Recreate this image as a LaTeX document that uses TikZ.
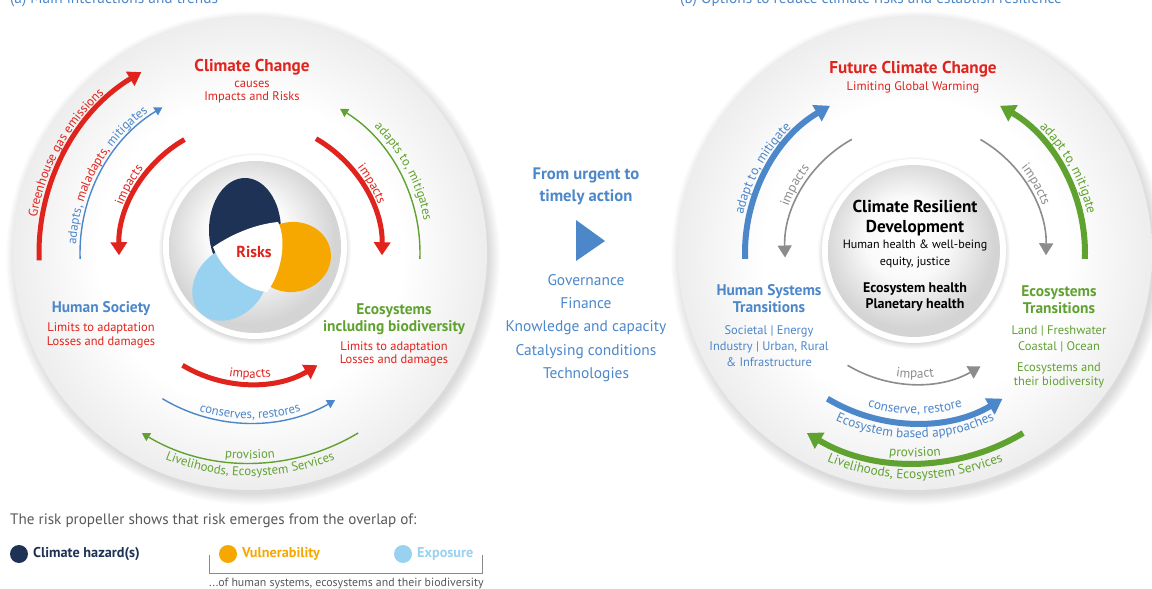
\documentclass[tikz,border=0pt]{standalone}
\usepackage{fontspec}
\setmainfont{PT Sans}
\usetikzlibrary{arrows.meta,decorations.text,calc,positioning}

\definecolor{ccred}{RGB}{224,35,28}
\definecolor{hsblue}{RGB}{76,135,202}
\definecolor{ecogreen}{RGB}{96,162,48}
\definecolor{hazard}{RGB}{29,50,85}
\definecolor{vuln}{RGB}{246,167,0}
\definecolor{expo}{RGB}{153,210,240}
\definecolor{impgray}{RGB}{140,140,140}
\definecolor{notegray}{RGB}{88,88,88}

\newcommand{\arcfont}{\fontsize{12.8}{14}\selectfont}
\newcommand{\arcfontb}{\fontsize{13.3}{15}\selectfont}
\pgfdeclareradialshading{diskshade}{\pgfpoint{0bp}{0bp}}{color(0bp)=(white); color(16bp)=(white); color(25bp)=(black!7); color(50bp)=(black!7)}
\pgfdeclareradialshading{hubshade}{\pgfpoint{-3bp}{5bp}}{color(0bp)=(white); color(12bp)=(black!2); color(25bp)=(black!17); color(50bp)=(black!17)}

\tikzset{
  ttl/.style={font=\bfseries\fontsize{15.5}{17}\selectfont},
  bigttl/.style={font=\bfseries\fontsize{17.2}{19}\selectfont},
  subttl/.style={font=\fontsize{12.5}{#1}\selectfont},
  subttl/.default=14,
  thickarc/.style={line width=5bp, -{Triangle[width=16bp,length=13bp]}},
  thinarc/.style={line width=1.4bp, -{Triangle[width=9bp,length=8bp]}},
  fatarc/.style={line width=6bp, -{Triangle[width=18bp,length=15bp]}},
  grayarc/.style={impgray, line width=1.6bp, -{Triangle[width=14bp,length=12bp]}},
  arctxt/.style={decorate, decoration={text along path, text align=center, text={#1}}}
}

\begin{document}
\begin{tikzpicture}[x=1bp, y=-1bp, every node/.style={inner sep=0pt, align=center}]
\useasboundingbox (0,0) rectangle (1152,589);
\coordinate (cL) at (250,253);
\coordinate (cR) at (915,253);
\coordinate (hL) at (255,247);
\coordinate (hR) at (914,251);

% disks and hubs
\foreach \c in {cL,cR}{
  \foreach \s in {1,...,12}
    \fill[black, opacity=0.011] ($(\c)+(3,5)$) circle (235+\s);
  \shade[shading=diskshade] (\c) circle (237);
}
\foreach \c in {hL,hR}{
  \foreach \s in {1,...,6}
    \fill[black, opacity=0.025] ($(\c)+(0,2)$) circle (90+\s);
  \fill[white] (\c) circle (92);
  \shade[shading=hubshade] (\c) circle (86);
}

\node (titlea) [anchor=base west, font=\fontsize{15.4}{17}\selectfont, text=hsblue] at (10,4) {(a) Main interactions and trends};
\node (titleb) [anchor=base west, font=\fontsize{15.4}{17}\selectfont, text=hsblue] at (680,4) {(b) Options to reduce climate risks and establish resilience};

% risk propeller
\fill[hazard] (245,230) ellipse[x radius=36, y radius=52];
\fill[expo, rotate around={45:(230,283)}] (230,283) ellipse[x radius=42, y radius=33];
\fill[vuln, rotate around={8:(292,257)}] (292,257) ellipse[x radius=39, y radius=35];
\fill[white] (213,247) .. controls (235,232) and (258,224) .. (278,222)
  .. controls (287,240) and (282,272) .. (267,292)
  .. controls (245,290) and (222,270) .. (213,247);
\node (risks) [font=\bfseries\fontsize{16}{18}\selectfont, text=ccred] at (254,252) {Risks};

% (a) arrows
\begin{scope}[shift={(cL)}]
\draw[ccred, thickarc] (178:211) arc[start angle=178, end angle=239, radius=211];
\path[arctxt={|\arcfont\color{ccred}|Greenhouse gas emissions}] (178:216) arc[start angle=178, end angle=239, radius=216];
\draw[hsblue, thinarc] (178:170) arc[start angle=178, end angle=239, radius=170];
\path[arctxt={|\arcfont\color{hsblue}|adapts, |\arcfont\color{ccred}|maladapts, |\arcfont\color{hsblue}|mitigates}] (178:174) arc[start angle=178, end angle=239, radius=174];
\draw[ccred, thickarc] (240:131) arc[start angle=240, end angle=179, radius=131];
\path[arctxt={|\arcfont\color{ccred}|impacts}] (179:136) arc[start angle=179, end angle=240, radius=136];
\draw[ecogreen, thinarc] (2:170) arc[start angle=2, end angle=-58, radius=170];
\path[arctxt={|\arcfont\color{ecogreen}|adapts to, mitigates}] (-58:177) arc[start angle=-58, end angle=2, radius=177];
\draw[ccred, thickarc] (-60:132) arc[start angle=-60, end angle=1, radius=132];
\path[arctxt={|\arcfont\color{ccred}|impacts}] (-60:137) arc[start angle=-60, end angle=1, radius=137];
\draw[ccred, thickarc] (121:131) arc[start angle=121, end angle=59, radius=131];
\path[arctxt={|\arcfont\color{ccred}|impacts}] (121:125) arc[start angle=121, end angle=59, radius=125];
\draw[hsblue, thinarc] (121:170) arc[start angle=121, end angle=60, radius=170];
\path[arctxt={|\arcfont\color{hsblue}|conserves, restores}] (121:166) arc[start angle=121, end angle=59, radius=166];
\draw[ecogreen, thinarc] (59:210) arc[start angle=59, end angle=121, radius=210];
\path[arctxt={|\arcfont\color{ecogreen}|provision}] (121:206) arc[start angle=121, end angle=59, radius=206];
\path[arctxt={|\arcfont\color{ecogreen}|Livelihoods, Ecosystem Services}] (121:223) arc[start angle=121, end angle=59, radius=223];
\end{scope}

% (b) arrows
\begin{scope}[shift={(cR)}]
\draw[hsblue, fatarc] (178:170) arc[start angle=178, end angle=240, radius=170];
\path[arctxt={|\arcfontb\color{hsblue}|adapt to, mitigate}] (178:176) arc[start angle=178, end angle=240, radius=176];
\draw[grayarc] (241:130) arc[start angle=241, end angle=178, radius=130];
\path[arctxt={|\arcfontb\color{impgray}|impacts}] (178:135) arc[start angle=178, end angle=241, radius=135];
\draw[ecogreen, fatarc] (2:170) arc[start angle=2, end angle=-60, radius=170];
\path[arctxt={|\arcfontb\color{ecogreen}|adapt to, mitigate}] (-60:177) arc[start angle=-60, end angle=2, radius=177];
\draw[grayarc] (-60:131) arc[start angle=-60, end angle=1, radius=131];
\path[arctxt={|\arcfontb\color{impgray}|impacts}] (-60:136) arc[start angle=-60, end angle=1, radius=136];
\draw[grayarc] (121:131) arc[start angle=121, end angle=60, radius=131];
\path[arctxt={|\arcfontb\color{impgray}|impact}] (121:125) arc[start angle=121, end angle=59, radius=125];
\draw[hsblue, fatarc] (121:170) arc[start angle=121, end angle=59, radius=170];
\path[arctxt={|\arcfontb\color{hsblue}|conserve, restore}] (121:161) arc[start angle=121, end angle=59, radius=161];
\path[arctxt={|\arcfontb\color{hsblue}|Ecosystem based approaches}] (121:185) arc[start angle=121, end angle=59, radius=185];
\draw[ecogreen, fatarc] (59:210) arc[start angle=59, end angle=121, radius=210];
\path[arctxt={|\arcfontb\color{ecogreen}|provision}] (121:204) arc[start angle=121, end angle=59, radius=204];
\path[arctxt={|\arcfontb\color{ecogreen}|Livelihoods, Ecosystem Services}] (121:226) arc[start angle=121, end angle=59, radius=226];
\end{scope}

% (a) labels
\node (cc) [bigttl, text=ccred] at (252,67) {Climate Change};
\node (ccsub) [subttl=13, text=ccred] at (252,92) {causes\\Impacts and Risks};
\node (hsoc) [ttl, text=hsblue] at (101,309) {Human Society};
\node (hsocsub) [subttl, text=ccred] at (101,335) {Limits to adaptation\\Losses and damages};
\node (eco) [ttl, text=ecogreen] at (394,319) {Ecosystems\\including biodiversity};
\node (ecosub) [subttl=13.5, text=ccred] at (394,354) {Limits to adaptation\\Losses and damages};

% middle
\node (urgent) [font=\bfseries\fontsize{16.7}{22}\selectfont, text=hsblue] at (586,186) {From urgent to\\timely action};
\fill[hsblue] (576,220) -- (605,241) -- (576,261) -- cycle;
\node (enable) [font=\fontsize{15.5}{23.5}\selectfont, text=hsblue] at (586,328) {Governance\\Finance\\Knowledge and capacity\\Catalysing conditions\\Technologies};

% (b) labels
\node (fcc) [bigttl, text=ccred] at (913,69) {Future Climate Change};
\node (fccsub) [subttl, text=ccred] at (913,87) {Limiting Global Warming};
\node (crd) [font=\bfseries\fontsize{17.3}{20}\selectfont] at (915,218) {Climate Resilient\\Development};
\node (crdsub) [font=\fontsize{12.1}{17}\selectfont] at (915,254) {Human health \& well-being\\equity, justice};
\node (health) [font=\bfseries\fontsize{14}{16}\selectfont] at (915,297) {Ecosystem health\\Planetary health};
\node (hst) [ttl, text=hsblue] at (769,299) {Human Systems\\Transitions};
\node (hstsub) [subttl=16, text=hsblue] at (769,346) {Societal | Energy\\Industry | Urban, Rural\\\& Infrastructure};
\node (est) [ttl, text=ecogreen] at (1059,300) {Ecosystems\\Transitions};
\node (estsub) [subttl=16, text=ecogreen] at (1059,339) {Land | Freshwater\\Coastal | Ocean};
\node (estbio) [subttl=14, text=ecogreen] at (1059,375) {Ecosystems and\\their biodiversity};

% legend
\node (note) [anchor=west, font=\fontsize{15.2}{17}\selectfont, text=notegray] at (10,521) {The risk propeller shows that risk emerges from the overlap of:};
\foreach \x/\col/\lab/\nm in {19/hazard/Climate hazard(s)/haz, 228/vuln/Vulnerability/vul, 403/expo/Exposure/expos}{
  \fill[\col] (\x,554) circle (9);
  \node (\nm) [anchor=west, font=\bfseries\fontsize{14.3}{16}\selectfont, text=\col] at (\x+14,554) {\lab};
}
\draw[notegray!70, line width=0.8bp] (209,555) |- (482,573) -- (482,555);
\node (ofhs) [anchor=west, font=\fontsize{11.9}{14}\selectfont, text=notegray] at (209,584) {...of human systems, ecosystems and their biodiversity};
\end{tikzpicture}
\end{document}
